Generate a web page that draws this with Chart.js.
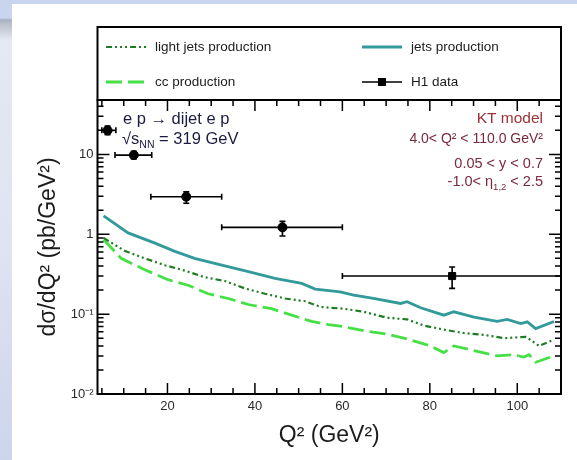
<!DOCTYPE html>
<html>
<head>
<meta charset="utf-8">
<script src="https://cdn.jsdelivr.net/npm/chart.js@4.4.1/dist/chart.umd.min.js"></script>
<style>
  html, body { margin: 0; padding: 0; width: 577px; height: 460px; overflow: hidden; background: #c9d5ef; }
  #side { position: absolute; left: 0; top: 0; width: 12px; height: 460px;
    background: linear-gradient(to bottom, #c9d5ef 0px, #c9d5ef 18px, #a8afbf 20px, #b9bfcc 24px, #e6e8f3 40px, #dfe3f2 250px, #cdd5ea 460px); }
  #page { position: absolute; left: 12px; top: 4px; width: 565px; height: 456px; background: #fff; }
  #wrap { position: absolute; left: 0; top: 0; width: 577px; height: 460px; }
</style>
</head>
<body>
<div id="side"></div>
<div id="page"></div>
<div id="wrap"><canvas id="xsecChart" width="577" height="460"></canvas></div>
<script>
// values
var lightQ2   = [5.4, 10.2, 14.8, 19.4, 24, 28.5, 33.1, 37.7, 42.3, 46.9, 51.5, 55, 60.3, 64.9, 70.3, 74.8, 78.6, 83.2, 87.8, 92.4, 97, 102, 105, 108.4]
var lightXsec = [0.90, 0.62, 0.50, 0.41, 0.35, 0.29, 0.26, 0.21, 0.18, 0.157, 0.145, 0.123, 0.117, 0.107, 0.090, 0.086, 0.072, 0.064, 0.058, 0.055, 0.050, 0.052, 0.040, 0.048]

var jetsQ2   = [5.4, 11, 17, 21.7, 26.2, 32.4, 38.5, 44.6, 50.7, 53.8, 59.5, 62.6, 67.1, 73.3, 74.8, 77.9, 83.2, 85.5, 90.1, 95.4, 97.7, 100.8, 102.3, 104.2, 108.4]
var jetsXsec = [1.70, 1.04, 0.78, 0.61, 0.50, 0.41, 0.34, 0.28, 0.243, 0.206, 0.19, 0.173, 0.157, 0.136, 0.143, 0.12, 0.097, 0.107, 0.092, 0.081, 0.086, 0.076, 0.080, 0.066, 0.081]

var ccQ2   = [5.4, 9.4, 14.8, 20.1, 24.7, 29.3, 33.9, 38.5, 43.8, 48.4, 53, 56.8, 59.5, 64.9, 70.3, 74.8, 80.1, 83.2, 85.5, 90.1, 95.4, 99.2, 101.5, 102.7, 104.2, 108.4]
var ccXsec = [0.86, 0.50, 0.36, 0.27, 0.23, 0.18, 0.157, 0.132, 0.117, 0.097, 0.081, 0.074, 0.071, 0.062, 0.056, 0.049, 0.040, 0.033, 0.040, 0.035, 0.030, 0.031, 0.029, 0.031, 0.025, 0.030]

var h1Q2       = [6.3, 12.3, 24.3, 46.3, 85.1]
var h1Q2Low    = [5, 8, 16.2, 32.4, 60]
var h1Q2High   = [8.2, 16.4, 32.4, 60, 110]
var h1Xsec     = [20, 9.8, 2.95, 1.22, 0.30]
var h1XsecLow  = [17.6, 8.8, 2.45, 0.95, 0.21]
var h1XsecHigh = [22.6, 10.9, 3.4, 1.45, 0.39]

var xTicks = [20, 40, 60, 80, 100]
var yTicks = [0.01, 0.1, 1, 10]
var yTickLabels = ['10\u207B\u00B2', '10\u207B\u00B9', '1', '10']

var family = "'Liberation Sans', Arial, Helvetica, sans-serif"
Chart.defaults.font.family = family

function points(xs, ys) {
  return xs.map(function (x, i) { return { x: x, y: ys[i] } })
}

// draws a run of text pieces [text, size, dy], left or right aligned
function drawParts(c, parts, x, y, align) {
  var w = 0
  parts.forEach(function (p) { c.font = p[1] + 'px ' + family; w += c.measureText(p[0]).width })
  var cx = align === 'right' ? x - w : x
  c.textAlign = 'left'
  parts.forEach(function (p) {
    c.font = p[1] + 'px ' + family
    c.fillText(p[0], cx, y + (p[2] || 0))
    cx += c.measureText(p[0]).width
  })
}

var errorBars = {
  id: 'errorBars',
  afterDatasetsDraw: function (chart) {
    var c = chart.ctx, xs = chart.scales.x, ys = chart.scales.y
    c.save()
    c.strokeStyle = '#000'
    c.lineWidth = 1.6
    h1Q2.forEach(function (q, i) {
      var px = xs.getPixelForValue(q), py = ys.getPixelForValue(h1Xsec[i])
      var x0 = xs.getPixelForValue(h1Q2Low[i]), x1 = xs.getPixelForValue(h1Q2High[i])
      var y0 = ys.getPixelForValue(h1XsecLow[i]), y1 = ys.getPixelForValue(h1XsecHigh[i])
      c.beginPath()
      c.moveTo(x0, py); c.lineTo(x1, py)
      c.moveTo(x0, py - 3); c.lineTo(x0, py + 3)
      c.moveTo(x1, py - 3); c.lineTo(x1, py + 3)
      c.moveTo(px, y0); c.lineTo(px, y1)
      c.moveTo(px - 3, y0); c.lineTo(px + 3, y0)
      c.moveTo(px - 3, y1); c.lineTo(px + 3, y1)
      c.stroke()
    })
    c.restore()
  }
}

var rootFrame = {
  id: 'rootFrame',
  afterDraw: function (chart) {
    var c = chart.ctx, a = chart.chartArea, xs = chart.scales.x, ys = chart.scales.y
    var ds = chart.data.datasets
    c.save()
    c.strokeStyle = '#000'
    c.lineWidth = 2
    c.strokeRect(a.left, a.top, a.right - a.left, a.bottom - a.top)

    // ticks inside the frame, all four sides
    c.lineWidth = 1.5
    c.beginPath()
    for (var v = 5; v <= 110; v += 5) {
      var px = xs.getPixelForValue(v), len = v % 20 === 0 ? 11 : 6
      c.moveTo(px, a.bottom); c.lineTo(px, a.bottom - len)
      c.moveTo(px, a.top); c.lineTo(px, a.top + len)
    }
    for (var d = 0.01; d < 50; d *= 10) {
      for (var m = 1; m <= 9; m++) {
        var val = d * m
        if (val > ys.max) break
        var py = ys.getPixelForValue(val), l2 = m === 1 ? 12 : 6
        c.moveTo(a.left, py); c.lineTo(a.left + l2, py)
        c.moveTo(a.right, py); c.lineTo(a.right - l2, py)
      }
    }
    c.stroke()

    // legend box above the frame
    var lx = a.left, ly = 27, lw = a.right - a.left, lh = a.top - ly
    c.lineWidth = 2
    c.strokeRect(lx, ly, lw, lh)
    var rows = [47, 82], cols = [106, 362], sampleW = 40
    var slots = [[0, 0], [1, 0], [0, 1], [1, 1]]
    ds.forEach(function (d, k) {
      var sx = cols[slots[k][0]], sy = rows[slots[k][1]]
      c.save()
      if (d.showLine !== false) {
        c.strokeStyle = d.borderColor
        c.lineWidth = d.borderWidth
        c.setLineDash(d.borderDash || [])
        c.beginPath(); c.moveTo(sx, sy); c.lineTo(sx + sampleW, sy); c.stroke()
      } else {
        c.strokeStyle = '#000'; c.lineWidth = 1.6
        c.beginPath(); c.moveTo(sx, sy); c.lineTo(sx + sampleW, sy); c.stroke()
        c.fillStyle = '#000'
        c.fillRect(sx + sampleW / 2 - 4, sy - 4, 8, 8)
      }
      c.restore()
      c.fillStyle = '#1c1c1c'
      c.font = '13.5px ' + family
      c.textBaseline = 'middle'
      c.textAlign = 'left'
      c.fillText(d.label, sx + sampleW + 9, sy)
    })

    // annotations
    c.textBaseline = 'alphabetic'
    c.fillStyle = '#1a1c40'
    drawParts(c, [['e p \u2192 dijet e p', 16.5]], 123, 124, 'left')
    drawParts(c, [['\u221As', 16.5], ['NN', 10.5, 4], [' = 319 GeV', 16.5]], 122, 144, 'left')
    c.fillStyle = '#9e3038'
    drawParts(c, [['KT model', 15.5]], 543, 123, 'right')
    c.fillStyle = '#7a2a3c'
    drawParts(c, [['4.0< Q\u00B2 < 110.0 GeV\u00B2', 14]], 543, 143, 'right')
    drawParts(c, [['0.05 < y < 0.7', 14.5]], 543, 168, 'right')
    drawParts(c, [['-1.0< \u03B7', 14.5], ['1,2', 9.5, 4], [' < 2.5', 14.5]], 543, 186, 'right')
    c.restore()
  }
}

var ctx = document.getElementById('xsecChart').getContext('2d')
var xsecChart = new Chart(ctx, {
  type: 'scatter',
  data: {
    datasets: [
      {
        label: 'light jets production',
        data: points(lightQ2, lightXsec),
        showLine: true,
        borderColor: '#1f7d24',
        borderWidth: 2.2,
        borderDash: [6, 3, 2, 3, 2, 3, 2, 3],
        pointRadius: 0,
        tension: 0
      },
      {
        label: 'jets production',
        data: points(jetsQ2, jetsXsec),
        showLine: true,
        borderColor: '#329a9a',
        borderWidth: 2.8,
        pointRadius: 0,
        tension: 0
      },
      {
        label: 'cc production',
        data: points(ccQ2, ccXsec),
        showLine: true,
        borderColor: '#45e045',
        borderWidth: 2.8,
        borderDash: [16, 6],
        pointRadius: 0,
        tension: 0
      },
      {
        label: 'H1 data',
        data: points(h1Q2, h1Xsec),
        showLine: false,
        pointStyle: ['circle', 'circle', 'circle', 'circle', 'rect'],
        pointRadius: [4.5, 4.5, 4.5, 4.5, 5],
        backgroundColor: '#000',
        borderColor: '#000',
        borderWidth: 1
      }
    ]
  },
  options: {
    responsive: false,
    animation: false,
    layout: { padding: { left: 0, top: 100, right: 16, bottom: 0 } },
    scales: {
      x: {
        type: 'linear',
        min: 4,
        max: 110,
        grid: { display: false, drawTicks: false },
        border: { display: false },
        afterBuildTicks: function (s) { s.ticks = xTicks.map(function (v) { return { value: v } }) },
        afterFit: function (s) { s.height = 66 },
        ticks: { padding: 5, color: '#2a2a2a', font: { size: 13 } },
        title: {
          display: true,
          text: 'Q\u00B2 (GeV\u00B2)',
          color: '#1c1c1c',
          font: { size: 23 },
          padding: { bottom: 11 }
        }
      },
      y: {
        type: 'logarithmic',
        min: 0.01,
        max: 48,
        grid: { display: false, drawTicks: false },
        border: { display: false },
        afterBuildTicks: function (s) { s.ticks = yTicks.map(function (v) { return { value: v } }) },
        afterFit: function (s) { s.width = 97.5 },
        ticks: {
          padding: 4,
          color: '#2a2a2a',
          font: { size: 13 },
          callback: function (v, i) { return yTickLabels[i] }
        },
        title: {
          display: true,
          text: 'd\u03C3/dQ\u00B2 (pb/GeV\u00B2)',
          color: '#1c1c1c',
          font: { size: 23 },
          padding: { top: 35 }
        }
      }
    },
    plugins: {
      legend: { display: false },
      tooltip: { enabled: false }
    }
  },
  plugins: [errorBars, rootFrame]
})
</script>
</body>
</html>
